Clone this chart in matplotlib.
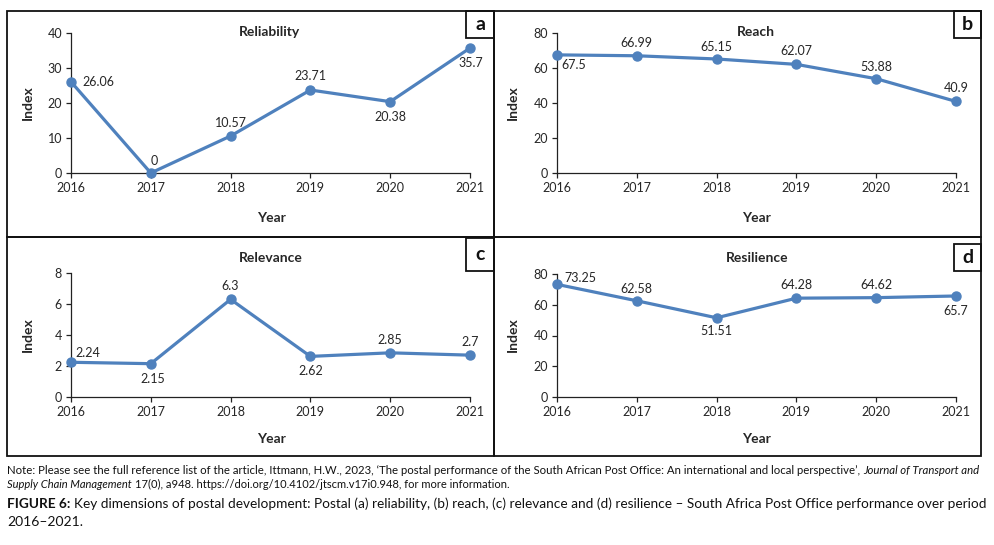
import matplotlib
matplotlib.use("Agg")
import matplotlib.pyplot as plt
import matplotlib.patches as pth

W, H = 994, 545

years = [2016, 2017, 2018, 2019, 2020, 2021]
reliability = [26.06, 0, 10.57, 23.71, 20.38, 35.7]
reach = [67.5, 66.99, 65.15, 62.07, 53.88, 40.9]
relevance = [2.24, 2.15, 6.3, 2.62, 2.85, 2.7]
resilience = [73.25, 62.58, 51.51, 64.28, 64.62, 65.7]

titles = ["Reliability", "Reach", "Relevance", "Resilience"]
letters = ["a", "b", "c", "d"]
y_ticks = [[0, 10, 20, 30, 40], [0, 20, 40, 60, 80], [0, 2, 4, 6, 8], [0, 20, 40, 60, 80]]

BLUE = "#4f81bd"
TXT = "#262626"
plt.rcParams["font.family"] = "Lato"

fig = plt.figure(figsize=(W / 100, H / 100), dpi=100)


def fx(x):
    return x / W


def fy(y):
    return 1 - y / H


# panel layout in pixels: border box, axes box, letter box, title/label positions
panels = [
    dict(box=(7, 11, 494, 237), ax=(71, 33, 470, 173), let=(466, 11, 494, 38), title=(270, 32), idx=(28, 103), year=(271, 218)),
    dict(box=(494, 11, 981, 237), ax=(557, 33, 956, 173), let=(954, 11, 981, 38), title=(756, 32), idx=(513, 103), year=(756, 218)),
    dict(box=(7, 237, 494, 456), ax=(71, 273, 470, 397), let=(466, 238, 494, 271), title=(271, 258), idx=(28, 335), year=(271, 439)),
    dict(box=(494, 237, 981, 456), ax=(557, 274, 956, 397), let=(954, 244, 981, 271), title=(757, 258), idx=(513, 335), year=(756, 439)),
]

# label offsets in pixels (dx, dy) for each point
offsets = [
    [(27, 0), (3, 12), (0, 13), (0, 14), (0, -15), (1, -15)],
    [(17, -10), (0, 13), (0, 12), (0, 13), (0, 12), (0, 13)],
    [(17, 9), (2, -15), (0, 13), (0, -15), (0, 13), (0, 13)],
    [(23, 6), (0, 12), (0, -13), (0, 13), (0, 13), (0, -15)],
]

series = [reliability, reach, relevance, resilience]

for i, p in enumerate(panels):
    x0, y0, x1, y1 = p["box"]
    fig.patches.append(pth.Rectangle((fx(x0), fy(y1)), fx(x1 - x0), (y1 - y0) / H,
                                     fill=False, lw=1.3, ec="#111111", transform=fig.transFigure))
    lx0, ly0, lx1, ly1 = p["let"]
    fig.patches.append(pth.Rectangle((fx(lx0), fy(ly1)), fx(lx1 - lx0), (ly1 - ly0) / H,
                                     fill=False, lw=1.3, ec="#111111", transform=fig.transFigure))
    fig.text(fx((lx0 + lx1) / 2), fy((ly0 + ly1) / 2), letters[i], ha="center", va="center",
             fontsize=14, fontweight="bold", color="#111111")

    ax0, ay0, ax1, ay1 = p["ax"]
    ax = fig.add_axes([fx(ax0), fy(ay1), fx(ax1 - ax0), (ay1 - ay0) / H])
    vals = series[i]
    ax.plot(years, vals, color=BLUE, lw=2.3, marker="o", ms=6.5, clip_on=False, zorder=3)
    ax.set_xlim(2016, 2021)
    ax.set_ylim(y_ticks[i][0], y_ticks[i][-1])
    ax.set_xticks(years)
    ax.set_yticks(y_ticks[i])
    ax.spines["top"].set_visible(False)
    ax.spines["right"].set_visible(False)
    for s in ("left", "bottom"):
        ax.spines[s].set_color("#222222")
        ax.spines[s].set_linewidth(0.9)
    ax.tick_params(direction="out", length=3.5, width=0.9, colors="#222222", labelsize=9,
                   labelcolor=TXT, pad=3)
    ax.patch.set_alpha(0)

    for j, v in enumerate(vals):
        dx, dy = offsets[i][j]
        ax.annotate(f"{v:g}", (years[j], v), xytext=(dx, dy), textcoords="offset pixels",
                    ha="center", va="center", fontsize=9, color=TXT, annotation_clip=False)

    fig.text(fx(p["title"][0]), fy(p["title"][1]), titles[i], ha="center", va="center",
             fontsize=10, fontweight="bold", color=TXT)
    fig.text(fx(p["idx"][0]), fy(p["idx"][1]), "Index", ha="center", va="center", rotation=90,
             fontsize=10, fontweight="bold", color=TXT)
    fig.text(fx(p["year"][0]), fy(p["year"][1]), "Year", ha="center", va="center",
             fontsize=10, fontweight="bold", color=TXT)

# footnote and caption: one text per style run; a justified line gets its size scaled to fill the width
renderer = fig.canvas.get_renderer()


def space_width(size):
    a = fig.text(0, 0, "a b", fontsize=size)
    b = fig.text(0, 0, "ab", fontsize=size)
    w = a.get_window_extent(renderer).width - b.get_window_extent(renderer).width
    a.remove()
    b.remove()
    return w


def draw_line(runs, x_left, y, size, x_right=None):
    texts = []
    for txt, style, weight in runs:
        texts.append(fig.text(0, fy(y), txt, fontsize=size, fontstyle=style, fontweight=weight,
                              va="baseline", ha="left", color="#111111"))

    def widths(sz):
        for t in texts:
            t.set_fontsize(sz)
        ws = [t.get_window_extent(renderer).width for t in texts]
        return ws, space_width(sz)

    ws, sp = widths(size)
    if x_right is not None:
        total = sum(ws) + sp * (len(ws) - 1)
        size = size * (x_right - x_left) / total
        ws, sp = widths(size)
    x = x_left
    for t, wd in zip(texts, ws):
        t.set_x(fx(x))
        x += wd + sp


note1 = [("Note: Please see the full reference list of the article, Ittmann, H.W., 2023, \u2018The postal performance of the South African Post Office: An international and local perspective\u2019,", "normal", "normal"),
         ("Journal of Transport and", "italic", "normal")]
note2 = [("Supply Chain Management", "italic", "normal"),
         ("17(0), a948. https://doi.org/10.4102/jtscm.v17i0.948, for more information.", "normal", "normal")]
cap1 = [("FIGURE 6:", "normal", "bold"),
        ("Key dimensions of postal development: Postal (a) reliability, (b) reach, (c) relevance and (d) resilience \u2013 South Africa Post Office performance over period", "normal", "normal")]
cap2 = [("2016\u20132021.", "normal", "normal")]

draw_line(note1, 7, 474.5, 8, 985)
draw_line(note2, 7, 487.5, 8)
draw_line(cap1, 7, 508, 10, 985)
draw_line(cap2, 7, 526, 10)

fig.savefig("out.png", dpi=100)
